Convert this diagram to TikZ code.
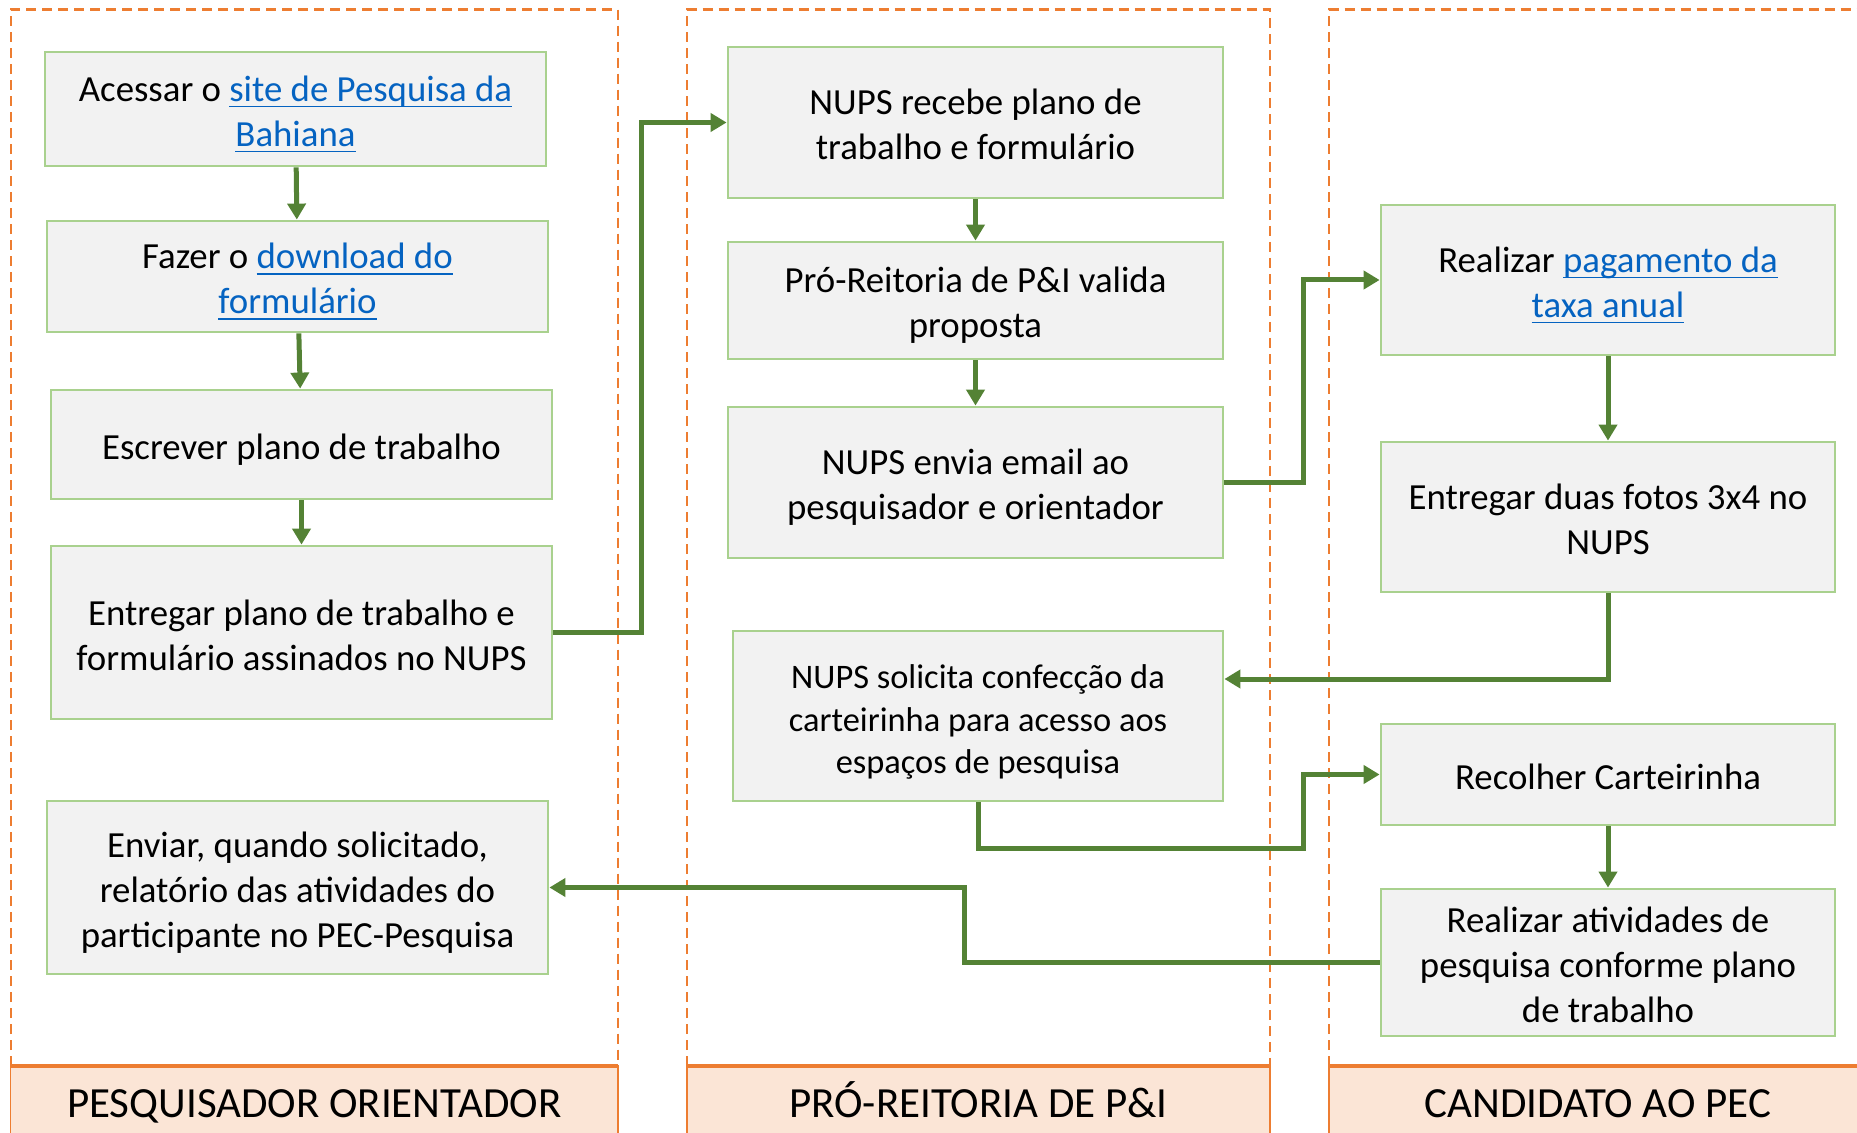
\documentclass[tikz,border=0pt]{standalone}
\usepackage{fontspec}
\setmainfont{Carlito}
\usetikzlibrary{arrows.meta,calc}
\definecolor{lane}{HTML}{ED7D31}
\definecolor{lanefill}{HTML}{FBE5D6}
\definecolor{boxline}{HTML}{A9D18E}
\definecolor{boxfill}{HTML}{F2F2F2}
\definecolor{arrowc}{HTML}{548235}
\definecolor{linkblue}{HTML}{0563C1}
\newcommand\lnk[1]{\textcolor{linkblue}{\setbox0\hbox{#1}\rlap{\rule[-3pt]{\wd0}{0.9pt}}\box0}}
\begin{document}
\begin{tikzpicture}[x=0.5pt,y=-0.5pt,
  box/.style={draw=boxline, fill=boxfill, line width=1.4pt, inner sep=0pt, align=flush center,
    font=\fontsize{18.4}{22.5}\selectfont,
    execute at begin node={\rule{0pt}{20pt}},
    execute at end node={\rule[-5pt]{0pt}{5pt}}},
  wh/.style n args={3}{minimum width=#1*0.5pt, minimum height=#2*0.5pt, text width=#3pt},
  lanedash/.style={draw=lane, line width=1.1pt, dash pattern=on 5pt off 3pt},
  lanelabel/.style={fill=lanefill, draw=lane, line width=0.6pt},
  laneline/.style={draw=lane, line width=1.8pt},
  labeltext/.style={font=\fontsize{21.5}{25}\selectfont, anchor=base, inner sep=0pt},
  arr/.style={draw=arrowc, line width=2.5pt, -{Triangle[length=8pt,width=9pt]}}]
\useasboundingbox (0,0) rectangle (1857,1133);
% lanes
\draw[lanedash] (10.7,1066) -- (10.7,9.5) -- (618,9.5) -- (618,1066);
\draw[lanedash] (687,1066) -- (687,9.5) -- (1270,9.5) -- (1270,1066);
\draw[lanedash] (1329,1066) -- (1329,9.5) -- (1857,9.5);
\path[lanelabel] (10.7,1066) rectangle (618,1140);
\path[lanelabel] (687,1066) rectangle (1270,1140);
\path[lanelabel] (1329,1066) rectangle (1870,1140);
\draw[laneline] (10.7,1066) -- (618,1066);
\draw[laneline] (687,1066) -- (1270,1066);
\draw[laneline] (1329,1066) -- (1857,1066);
\node[labeltext] (L1) at (314.35,1117) {PESQUISADOR ORIENTADOR};
\node[labeltext] (L2) at (978.5,1117) {PRÓ-REITORIA DE P\&I};
\node[labeltext] (L3) at (1598,1117) {CANDIDATO AO PEC};
% column A
\node[box, wh={501}{114}{240}] (A1) at (295.5,109) {Acessar o \lnk{site de Pesquisa da}\\\lnk{Bahiana}};
\node[box, wh={501}{111}{240}] (A2) at (297.5,276.5) {Fazer o \lnk{download do}\\\lnk{formulário}};
\node[box, wh={501}{109}{240}] (A3) at (301.5,444.5) {Escrever plano de trabalho};
\node[box, wh={501}{173}{240}] (A4) at (301.5,632.5) {Entregar plano de trabalho e\\formulário assinados no NUPS};
\node[box, wh={501}{173}{240}] (A5) at (297.5,887.5) {Enviar, quando solicitado,\\relatório das atividades do\\participante no PEC-Pesquisa};
% column B
\node[box, wh={495}{151}{237}] (B1) at (975.5,122.5) {NUPS recebe plano de\\trabalho e formulário};
\node[box, wh={495}{117}{237}] (B2) at (975.5,300.5) {Pró-Reitoria de P\&I valida\\proposta};
\node[box, wh={495}{151}{237}] (B3) at (975.5,482.5) {NUPS envia email ao\\pesquisador e orientador};
\node[box, wh={490}{170}{235}, font=\fontsize{17.2}{21.2}\selectfont] (B4) at (978,716) {NUPS solicita confecção da\\carteirinha para acesso aos\\espaços de pesquisa};
% column C
\node[box, wh={454}{150}{217}] (C1) at (1608,280) {Realizar \lnk{pagamento da}\\\lnk{taxa anual}};
\node[box, wh={454}{150}{217}] (C2) at (1608,517) {Entregar duas fotos 3x4 no\\NUPS};
\node[box, wh={454}{101}{217}] (C3) at (1608,774.5) {Recolher Carteirinha};
\node[box, wh={454}{147}{217}] (C4) at (1608,962.5) {Realizar atividades de\\pesquisa conforme plano\\de trabalho};
% bend coordinates
\coordinate (k1) at (641,0);
\coordinate (k2) at (1303,0);
\coordinate (k3) at (0,848);
\coordinate (k4) at (964,0);
\coordinate (B4in) at ($(B4.east)+(0,-37)$);
% connectors
\draw[arr] (A1) -- (A2);
\draw[arr] (A2) -- (A3);
\draw[arr] (A3) -- (A4);
\draw[arr] (A4.east) -- (A4.east -| k1) -- (k1 |- B1.west) -- (B1.west);
\draw[arr] (B1) -- (B2);
\draw[arr] (B2) -- (B3);
\draw[arr] (B3.east) -- (B3.east -| k2) -- (k2 |- C1.west) -- (C1.west);
\draw[arr] (C1) -- (C2);
\draw[arr] (C2.south) |- (B4in);
\draw[arr] (B4.south) -- (B4.south |- k3) -- (k2 |- k3) -- (k2 |- C3.west) -- (C3.west);
\draw[arr] (C3) -- (C4);
\draw[arr] (C4.west) -- (C4.west -| k4) -- (k4 |- A5.east) -- (A5.east);
\end{tikzpicture}
\end{document}
